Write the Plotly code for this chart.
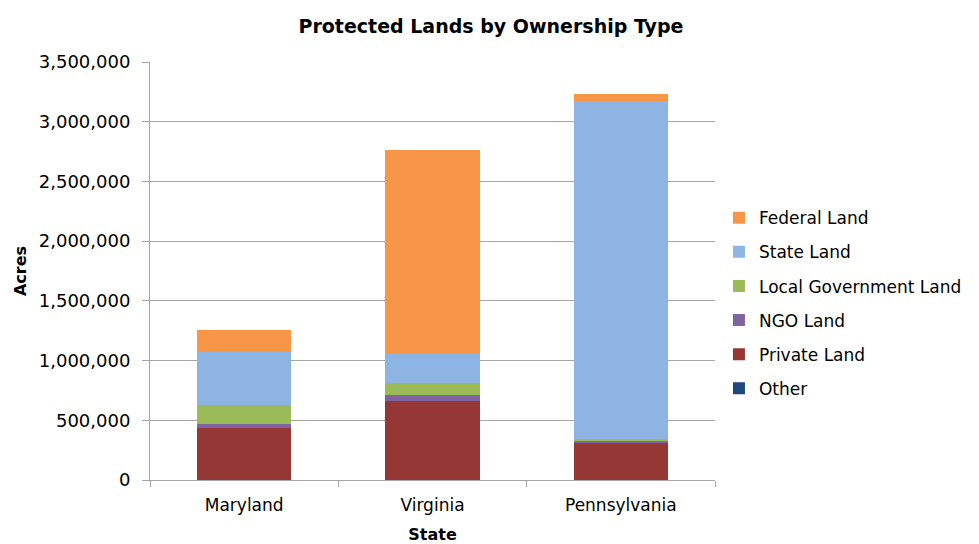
import plotly.graph_objects as go

states = ["Maryland", "Virginia", "Pennsylvania"]
other = [2000, 3000, 1000]
private_land = [433000, 662000, 312000]
ngo_land = [33000, 50000, 10000]
local_gov_land = [162000, 98000, 18000]
state_land = [441000, 245000, 2834000]
federal_land = [181000, 1709000, 59000]

series = [
    ("Other", other, "#1F497D"),
    ("Private Land", private_land, "#953735"),
    ("NGO Land", ngo_land, "#8064A2"),
    ("Local Government Land", local_gov_land, "#9BBB59"),
    ("State Land", state_land, "#8EB4E3"),
    ("Federal Land", federal_land, "#F79646"),
]

font_family = "DejaVu Sans, Verdana, sans-serif"

fig = go.Figure()
n = len(series)
for i, (name, vals, color) in enumerate(series):
    fig.add_trace(go.Bar(
        x=states, y=vals, name=name, marker_color=color,
        marker_line_width=0, legendgroup=name, legendrank=n - i,
    ))

fig.update_layout(
    barmode="stack",
    bargap=0.5,
    width=979, height=544,
    margin=dict(l=150, r=261, t=62, b=64),
    paper_bgcolor="white",
    plot_bgcolor="white",
    font=dict(family=font_family, size=17, color="#000000"),
    title=dict(
        text="<b>Protected Lands by Ownership Type</b>",
        x=491 / 979, xref="container", xanchor="center",
        y=1 - 26 / 544, yref="container", yanchor="middle",
        font=dict(size=19, family=font_family),
    ),
    legend=dict(
        traceorder="grouped",
        tracegroupgap=9,
        x=1.007, xanchor="left", xref="paper",
        y=0.423, yanchor="middle",
        font=dict(size=17, family=font_family),
        bgcolor="rgba(0,0,0,0)",
    ),
    showlegend=True,
)

fig.update_yaxes(
    range=[0, 3500000],
    tickvals=[0, 500000, 1000000, 1500000, 2000000, 2500000, 3000000, 3500000],
    tickformat=",d",
    showgrid=True, gridcolor="#A6A6A6", gridwidth=1,
    showline=True, linecolor="#A6A6A6", linewidth=1,
    ticks="outside", ticklen=7, tickcolor="#A6A6A6",
    ticklabelstandoff=8,
    tickfont=dict(size=18, family=font_family),
    zeroline=False,
    automargin=False,
    title=dict(text="<b>Acres</b>", font=dict(size=16, family=font_family), standoff=8),
)
fig.update_xaxes(
    showline=True, linecolor="#A6A6A6", linewidth=1,
    ticks="outside", ticklen=6, tickcolor="#A6A6A6",
    tickson="boundaries",
    ticklabelstandoff=10,
    tickfont=dict(size=17, family=font_family),
    automargin=False,
    title=dict(text="<b>State</b>", font=dict(size=16, family=font_family), standoff=17),
)

fig.write_html("out.html")
